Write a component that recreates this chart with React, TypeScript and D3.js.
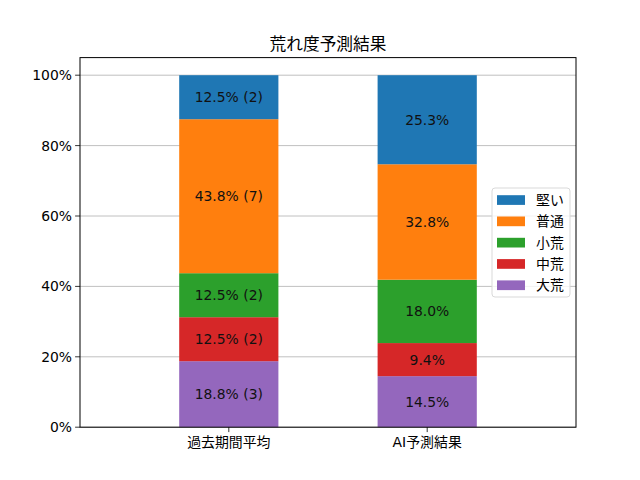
import * as d3 from 'd3';

const categories = ['過去期間平均', 'AI予測結果'];
// stacking order bottom -> top
const levels = ['大荒', '中荒', '小荒', '普通', '堅い'];
const colors = ['#9467bd', '#d62728', '#2ca02c', '#ff7f0e', '#1f77b4'];
const pastShare = [0.1875, 0.125, 0.125, 0.4375, 0.125];
const pastCount = [3, 2, 2, 7, 2];
const aiShare = [0.145, 0.094, 0.18, 0.328, 0.253];
const yTicks = [0, 0.2, 0.4, 0.6, 0.8, 1.0];

const W = 640;
const H = 480;
const margin = { top: 57.6, right: 64, bottom: 52.8, left: 80 };
const FONT = '"DejaVu Sans", "Noto Sans CJK JP", sans-serif';

export default function App() {
  const iw = W - margin.left - margin.right;
  const ih = H - margin.top - margin.bottom;

  const x = d3.scaleLinear().domain([-0.75, 1.75]).range([0, iw]);
  const y = d3.scaleLinear().domain([0, 1.05]).range([ih, 0]);
  const barW = x(0.5) - x(0);

  const stacks = [pastShare, aiShare].map((vals, ci) => {
    let acc = 0;
    return vals.map((v, li) => {
      const y0 = acc;
      acc += v;
      const label = ci === 0
        ? `${(v * 100).toFixed(1)}% (${pastCount[li]})`
        : `${(v * 100).toFixed(1)}%`;
      return { ci, li, y0, y1: acc, label };
    });
  });

  const fmt = (t: number) => `${Math.round(t * 100)}%`;

  // legend lists top series first
  const legendItems = levels.map((l, i) => ({ l, c: colors[i] })).reverse();
  const lg = { x: 492, y: 188, w: 78, h: 109 };

  return (
    <svg width={W} height={H} style={{ position: 'absolute', left: 0, top: 0 }} fontFamily={FONT}>
      <rect width={W} height={H} fill="#fff" />
      <text x={margin.left + iw / 2} y={margin.top - 8} textAnchor="middle" fontSize={16.7}>
        荒れ度予測結果
      </text>
      <g transform={`translate(${margin.left},${margin.top})`}>
        {yTicks.map(t => (
          <line key={t} x1={0} x2={iw} y1={y(t)} y2={y(t)} stroke="#b0b0b0" strokeWidth={0.8} />
        ))}
        {stacks.flat().map(s => (
          <rect key={`${s.ci}-${s.li}`} x={x(s.ci) - barW / 2} width={barW}
            y={y(s.y1)} height={y(s.y0) - y(s.y1)} fill={colors[s.li]} />
        ))}
        {stacks.flat().map(s => (
          <text key={`t${s.ci}-${s.li}`} x={x(s.ci)} y={(y(s.y0) + y(s.y1)) / 2}
            textAnchor="middle" dominantBaseline="central" fontSize={13.9} fill="#111">
            {s.label}
          </text>
        ))}
        <rect x={0} y={0} width={iw} height={ih} fill="none" stroke="#000" strokeWidth={1} />
        {yTicks.map(t => (
          <g key={`yt${t}`} transform={`translate(0,${y(t)})`}>
            <line x1={-4.9} x2={0} stroke="#000" strokeWidth={0.8} />
            <text x={-8} textAnchor="end" dominantBaseline="central" fontSize={13.9}>{fmt(t)}</text>
          </g>
        ))}
        {categories.map((c, i) => (
          <g key={c} transform={`translate(${x(i)},${ih})`}>
            <line y1={0} y2={4.9} stroke="#000" strokeWidth={0.8} />
            <text y={20} textAnchor="middle" fontSize={13.9}>{c}</text>
          </g>
        ))}
      </g>
      <g>
        <rect x={lg.x} y={lg.y} width={lg.w} height={lg.h} rx={3} fill="#fff" fillOpacity={0.8}
          stroke="#d9d9d9" strokeWidth={1} />
        {legendItems.map((it, i) => (
          <g key={it.l} transform={`translate(${lg.x + 5},${lg.y + 12 + i * 21.3})`}>
            <rect x={0} y={-4.8} width={28} height={9.7} fill={it.c} />
            <text x={39} dominantBaseline="central" fontSize={13.9}>{it.l}</text>
          </g>
        ))}
      </g>
    </svg>
  );
}
